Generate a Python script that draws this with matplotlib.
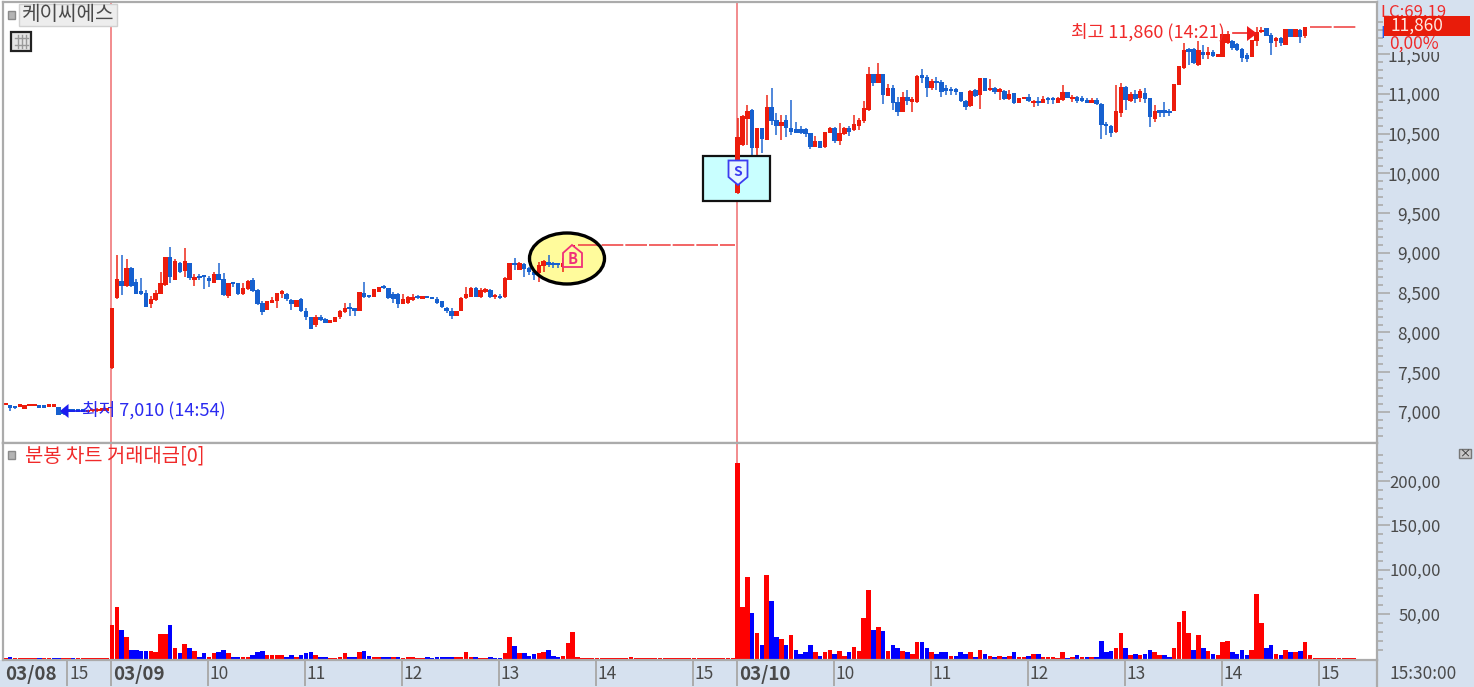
import matplotlib
matplotlib.use("Agg")
import matplotlib.pyplot as plt
import matplotlib.transforms as mtransforms
from matplotlib.patches import Rectangle, Ellipse, Polygon
from matplotlib.ticker import FixedLocator

plt.rcParams['font.family'] = ['Noto Sans CJK KR', 'DejaVu Sans']

# 3 minute candles, day by day
day1_open = [7085, 7085, 7065, 7065, 7035, 7075, 7075, 7085, 7085, 7065, 7060,
             7065, 7000, 7010, 7010, 7020, 7015, 7000, 7010, 7010, 7015, 7015]
day1_high = [7095, 7085, 7070, 7080, 7085, 7085, 7085, 7085, 7085, 7085, 7095,
             7065, 7010, 7015, 7015, 7020, 7020, 7015, 7020, 7050, 7020, 7020]
day1_low = [7085, 7015, 7040, 7065, 7035, 7075, 7075, 7045, 7045, 7065, 7060,
            6960, 6960, 7000, 7000, 7000, 7000, 7000, 7005, 7000, 7010, 7015]
day1_close = [7095, 7045, 7045, 7075, 7085, 7085, 7085, 7045, 7050, 7085, 7095,
              6965, 6980, 7005, 7005, 7005, 7005, 7015, 7020, 7020, 7020, 7020]

day2_open = [7550, 8430, 8650, 8580, 8805, 8640, 8505, 8500, 8360, 8410,
             8490, 8600, 8955, 8660, 8880, 8775, 8880, 8660, 8700, 8705,
             8660, 8625, 8730, 8670, 8460, 8620, 8620, 8485, 8545, 8660,
             8535, 8375, 8285, 8375, 8395, 8490, 8490, 8410, 8325, 8420,
             8275, 8190, 8095, 8200, 8165, 8125, 8135, 8190, 8260, 8310,
             8285, 8275, 8500, 8470, 8445, 8515, 8585, 8555, 8485, 8485,
             8360, 8370, 8410, 8450, 8425, 8440, 8440, 8420, 8390, 8305,
             8275, 8210, 8275, 8430, 8450, 8555, 8445, 8515, 8535, 8445,
             8460, 8445, 8660, 8870, 8785, 8860, 8805, 8765, 8745, 8840,
             8885, 8870, 8870, 8820, 8860, 8930]
day2_high = [8310, 8975, 8975, 8920, 8830, 8670, 8680, 8535, 8460, 8535,
             8765, 8955, 9070, 8930, 8890, 9060, 8880, 8735, 8735, 8710,
             8710, 8765, 8870, 8750, 8625, 8640, 8625, 8620, 8660, 8680,
             8545, 8390, 8390, 8450, 8500, 8535, 8500, 8420, 8410, 8430,
             8305, 8200, 8220, 8220, 8180, 8145, 8200, 8285, 8375, 8375,
             8305, 8515, 8640, 8470, 8545, 8575, 8600, 8565, 8515, 8495,
             8485, 8460, 8485, 8470, 8460, 8440, 8440, 8445, 8390, 8315,
             8305, 8275, 8450, 8575, 8575, 8575, 8555, 8555, 8545, 8485,
             8485, 8695, 8880, 8940, 8890, 8870, 8820, 8785, 8890, 8910,
             8975, 8890, 8880, 8935, 8930, 9100]
day2_low = [7540, 8420, 8470, 8570, 8575, 8490, 8470, 8315, 8305, 8400,
            8485, 8590, 8620, 8660, 8745, 8700, 8660, 8585, 8660, 8545,
            8575, 8620, 8660, 8465, 8430, 8570, 8470, 8470, 8535, 8515,
            8345, 8220, 8285, 8365, 8305, 8430, 8390, 8285, 8325, 8260,
            8160, 8040, 8065, 8145, 8115, 8125, 8135, 8165, 8240, 8210,
            8210, 8265, 8430, 8430, 8445, 8515, 8545, 8420, 8370, 8305,
            8360, 8360, 8400, 8420, 8420, 8430, 8420, 8360, 8305, 8240,
            8170, 8210, 8265, 8420, 8445, 8445, 8430, 8495, 8430, 8420,
            8420, 8435, 8660, 8785, 8780, 8695, 8725, 8660, 8640, 8765,
            8820, 8815, 8810, 8765, 8860, 8930]
day2_close = [8310, 8670, 8580, 8805, 8585, 8490, 8490, 8325, 8420, 8500,
              8620, 8945, 8700, 8900, 8755, 8900, 8680, 8695, 8680, 8695,
              8650, 8730, 8660, 8470, 8620, 8605, 8485, 8565, 8650, 8525,
              8360, 8260, 8390, 8410, 8500, 8515, 8415, 8360, 8410, 8270,
              8190, 8050, 8200, 8160, 8125, 8145, 8200, 8275, 8305, 8290,
              8275, 8505, 8450, 8445, 8545, 8575, 8555, 8430, 8420, 8360,
              8420, 8445, 8450, 8435, 8445, 8430, 8420, 8370, 8315, 8265,
              8210, 8275, 8430, 8485, 8555, 8450, 8535, 8545, 8445, 8470,
              8435, 8680, 8870, 8850, 8870, 8795, 8755, 8725, 8850, 8905,
              8850, 8850, 8850, 8880, 8930, 9100]

day3_open = [9752, 10360, 10680, 10800, 10320, 10570, 10422, 10842, 10674, 10603,
             10674, 10569, 10561, 10561, 10556, 10506, 10339, 10410, 10339, 10515,
             10569, 10414, 10498, 10569, 10548, 10603, 10665, 10800, 11252, 11135,
             11252, 10980, 11072, 10904, 10779, 10959, 10904, 10904, 11240, 11210,
             11072, 11156, 11156, 11059, 11059, 11051, 11021, 10917, 10850, 11051,
             10988, 11206, 11051, 11072, 11030, 11042, 10934, 11009, 10892, 10934,
             10959, 10883, 10917, 10892, 10942, 10942, 10892, 10925, 11030, 10934,
             10959, 10934, 10925, 10892, 10925, 10875, 10624, 10603, 10527, 10766,
             11093, 10917, 11000, 10946, 11017, 10946, 10682, 10779, 10779, 10779,
             10791, 11115, 11324, 11567, 11567, 11366, 11513, 11492, 11533, 11471,
             11471, 11638, 11672, 11630, 11563, 11492, 11471, 11672, 11777, 11827,
             11743, 11668, 11701, 11617, 11814, 11722, 11806, 11730]
day3_high = [10695, 10735, 10860, 10810, 10570, 10570, 10988, 11072, 10766, 10737,
             10737, 10925, 10653, 10598, 10569, 10515, 10473, 10410, 10527, 10590,
             10590, 10640, 10582, 10598, 10737, 10695, 10917, 11336, 11252, 11394,
             11252, 11126, 11114, 10959, 11030, 11051, 10959, 11240, 11311, 11240,
             11185, 11219, 11177, 11114, 11093, 11072, 11030, 10925, 11051, 11059,
             11206, 11206, 11185, 11093, 11072, 11051, 11051, 11017, 10946, 10959,
             11000, 10925, 10959, 10975, 10959, 10959, 10959, 11114, 11030, 10988,
             10975, 10975, 10946, 10946, 10946, 10883, 10653, 10611, 11114, 11143,
             11101, 11030, 11051, 11059, 11072, 10955, 10862, 10800, 10904, 10808,
             11126, 11358, 11638, 11575, 11575, 11672, 11617, 11596, 11550, 11492,
             11756, 11790, 11680, 11640, 11575, 11513, 11680, 11848, 11840, 11827,
             11764, 11722, 11714, 11820, 11814, 11814, 11814, 11840]
day3_low = [9740, 10350, 10360, 10213, 10170, 10263, 10422, 10611, 10485, 10422,
            10456, 10485, 10506, 10498, 10456, 10305, 10330, 10326, 10318, 10506,
            10389, 10360, 10485, 10473, 10540, 10548, 10632, 10791, 11101, 11135,
            10875, 10975, 10800, 10724, 10770, 10862, 10779, 10892, 11135, 10967,
            11051, 11051, 10967, 10988, 10988, 10988, 10904, 10800, 10833, 10967,
            10812, 11042, 11042, 11000, 10925, 10925, 10925, 10871, 10892, 10934,
            10896, 10833, 10854, 10883, 10871, 10871, 10883, 10917, 10946, 10904,
            10892, 10904, 10883, 10883, 10862, 10435, 10485, 10456, 10515, 10707,
            10800, 10904, 10892, 10904, 10892, 10590, 10644, 10707, 10716, 10724,
            10780, 11115, 11316, 11366, 11380, 11358, 11437, 11437, 11470, 11471,
            11471, 11630, 11555, 11540, 11408, 11408, 11471, 11605, 11764, 11735,
            11492, 11596, 11609, 11610, 11722, 11722, 11638, 11701]
day3_close = [10465, 10724, 10790, 10320, 10570, 10435, 10842, 10665, 10603, 10653,
              10569, 10527, 10515, 10506, 10498, 10339, 10410, 10326, 10519, 10569,
              10410, 10506, 10569, 10527, 10619, 10674, 10820, 11252, 11135, 11252,
              10988, 11072, 10892, 10779, 10959, 10917, 10917, 11227, 11198, 11080,
              11168, 11135, 11030, 11042, 11038, 11030, 10917, 10833, 11042, 10980,
              11206, 11042, 11072, 11021, 11059, 10938, 10996, 10883, 10946, 10959,
              10917, 10917, 10883, 10934, 10925, 10925, 10946, 11030, 10946, 10967,
              10917, 10917, 10892, 10925, 10875, 10611, 10598, 10515, 10791, 11093,
              10925, 11001, 10938, 11038, 10934, 10716, 10791, 10766, 10766, 10758,
              11126, 11358, 11555, 11534, 11387, 11555, 11492, 11521, 11479, 11492,
              11756, 11756, 11575, 11555, 11450, 11437, 11680, 11785, 11806, 11735,
              11647, 11693, 11638, 11814, 11722, 11814, 11722, 11840]

# price stays flat after the last candle of the day
day2_halt_price = 9100
day3_halt_price = 11840

# trading value, R = up bar, B = down bar
day1_vol = [1, 2, 1, 1, 1, 1, 1, 1, 1, 1, 1, 1, 1, 1, 1, 1, 1, 1, 1, 1, 1, 1]
day1_side = "RBRRRRRBRRBBRRBRRRRRRR"
day2_vol = [38, 58, 32, 24, 10, 10, 9, 9, 9, 7,
            28, 28, 38, 12, 6, 16, 12, 9, 2, 6,
            2, 6, 7, 10, 6, 2, 2, 2, 2, 4,
            7, 9, 4, 4, 4, 4, 2, 4, 2, 4,
            6, 7, 4, 2, 2, 1, 1, 2, 6, 2,
            2, 7, 9, 3, 2, 2, 2, 2, 2, 2,
            1, 2, 2, 1, 1, 2, 1, 2, 2, 2,
            2, 2, 2, 7, 2, 2, 1, 1, 2, 1,
            1, 6, 24, 14, 6, 6, 3, 5, 6, 7,
            10, 3, 2, 3, 18, 30, 2, 1, 1, 1,
            1, 1, 1, 1, 1, 1, 1, 2, 1, 1,
            1, 1, 1, 1, 1, 1, 1, 1, 1, 1,
            1, 1, 1, 1, 1, 1, 1, 1, 1]
day2_side = ("RRBRBBBBRR" "RRBRBRBRBB" "RRBBRBBRRB" "BBRRRRBBRB" "BBRBBRRRRB"
             "BRBBRRBBRB" "RRRRRBBBBB" "BRRRRBRRBB" "BRRBRBBBRR" "BBBRRRRRRR"
             "RRRRRRRRRR" "RRRRRRRRRR" "RRRRRRRRR")
day3_vol = [220, 58, 92, 51, 29, 15, 94, 65, 24, 22,
            15, 26, 10, 5, 7, 15, 7, 3, 7, 10,
            5, 8, 3, 7, 13, 8, 46, 77, 32, 36,
            31, 8, 15, 12, 8, 7, 5, 19, 19, 12,
            7, 5, 7, 7, 3, 3, 7, 5, 7, 2,
            10, 5, 3, 2, 3, 2, 3, 7, 2, 2,
            3, 5, 5, 2, 2, 2, 1, 7, 1, 2,
            4, 2, 2, 2, 2, 20, 7, 8, 12, 29,
            12, 4, 5, 4, 5, 10, 7, 4, 4, 2,
            12, 41, 53, 29, 10, 26, 12, 8, 5, 4,
            19, 20, 7, 5, 10, 4, 10, 73, 40, 12,
            15, 5, 4, 10, 7, 7, 8, 19, 4, 1,
            1, 1, 1, 1, 1, 1, 1, 1]
day3_side = ("RRRBRBRBBR" "BRBBBBRBRR" "BRRBRRRRBR" "BRBBRBRRBB" "RBBBRBBBRB"
             "RBRBRBRBRR" "BRBRRRRRBR" "BRBRBBBBRR" "BRBRBBRRBB" "RRRRBRBRBR"
             "RRBBBBRRRB" "BRBRBRBRRR" "RRRRRRRR")

price_ticks = [7000, 7500, 8000, 8500, 9000, 9500, 10000, 10500, 11000, 11500]
vol_ticks = [50, 100, 150, 200]
vol_tick_labels = ['50,00', '100,00', '150,00', '200,00']
time_labels = ['15', '03/09', '10', '11', '12', '13', '14', '15',
               '03/10', '10', '11', '12', '13', '14', '15']
time_ticks = [-9.2, -0.2, 19.8, 39.8, 59.8, 79.8, 99.8, 119.8,
              128.9, 148.9, 168.9, 188.9, 208.9, 228.9, 248.9]

RED = '#EC1C0C'
BLUE = '#1660CF'
STRIP = '#D6E1EF'
FRAME = '#ABABAB'
TEXT = '#4A4A4A'

DAY1_START = -22
DAY3_START = 129
BAR_PX = 4.85
FIRST_BAR_PX = 112
VOL_FLOOR = -1.7


def draw_candles(ax, start, opens, highs, lows, closes, z=2):
    for i in range(len(opens)):
        x = start + i
        up = closes[i] >= opens[i]
        color = RED if up else BLUE
        ax.vlines(x, lows[i], highs[i], color=color, lw=1.4, alpha=0.75, zorder=z)
        bottom = min(opens[i], closes[i])
        height = max(abs(closes[i] - opens[i]), 30)
        ax.bar(x, height, width=0.92, bottom=bottom, color=color, lw=0, zorder=z)


def px_to_index(x):
    return (x - FIRST_BAR_PX) / BAR_PX


fig = plt.figure(figsize=(14.74, 6.87), dpi=100, facecolor='white')
# y down pixel coordinates for all the screen furniture
pix = mtransforms.Affine2D().scale(1, -1).translate(0, 687)

fig.add_artist(Rectangle((1377, 0), 97, 687, transform=pix, fc=STRIP, ec='none', zorder=-2))
fig.add_artist(Rectangle((0, 660), 1474, 27, transform=pix, fc=STRIP, ec='none', zorder=-2))

W, H = 1474.0, 687.0
ax = fig.add_axes([3 / W, (H - 443) / H, 1374 / W, 441 / H])
ax_vol = fig.add_axes([3 / W, (H - 660) / H, 1374 / W, 217 / H])

for a in (ax, ax_vol):
    a.set_xlim(px_to_index(3), px_to_index(1377))
    for side in a.spines.values():
        side.set_color(FRAME)
        side.set_linewidth(1.6)
    a.yaxis.tick_right()
    a.axvline(time_ticks[1], color='#F0787A', lw=1.2, zorder=1)
    a.axvline(time_ticks[8], color='#F0787A', lw=1.2, zorder=1)

# price panel
ax.set_ylim(6610, 12157)
ax.set_xticks([])
ax.set_yticks(price_ticks)
ax.set_yticklabels([f"{p:,}" for p in price_ticks], fontsize=12.5, color=TEXT, ha='right')
ax.yaxis.set_minor_locator(FixedLocator([p for p in range(6700, 12100, 100) if p % 500]))
ax.tick_params(axis='y', which='major', length=9, width=1.2, color=FRAME, pad=37)
ax.tick_params(axis='y', which='minor', length=4, width=1.2, color=FRAME)

ax.add_patch(Ellipse((567, 258.5), 75, 51, transform=pix, fc='#FFFB9C', ec='none', zorder=1.5))

draw_candles(ax, DAY1_START, day1_open, day1_high, day1_low, day1_close)
draw_candles(ax, 0, day2_open, day2_high, day2_low, day2_close)
draw_candles(ax, DAY3_START + 1, day3_open[1:], day3_high[1:], day3_low[1:], day3_close[1:])

halt2 = len(day2_open)
ax.plot([halt2, DAY3_START - 0.5], [day2_halt_price, day2_halt_price],
        color='#F04A4A', lw=1.2, ls=(0, (13, 1.2)), zorder=2)
halt3 = DAY3_START + len(day3_open)
ax.plot([halt3, DAY3_START + 127.5], [day3_halt_price, day3_halt_price],
        color='#F04A4A', lw=1.2, ls=(0, (13, 1.2)), zorder=2)

# sell box sits on the candles, the first candle of the day stays in front
ax.add_patch(Rectangle((703, 156), 67, 45, transform=pix, fc='#C9FFFF', ec='#111111', lw=1.6, zorder=3))
draw_candles(ax, DAY3_START, day3_open[:1], day3_high[:1], day3_low[:1], day3_close[:1], z=4)
ax.add_patch(Polygon([(728.5, 160.5), (747.5, 160.5), (747.5, 177), (738, 185), (728.5, 177)],
                     transform=pix, fc='#E6F6FF', ec='#3C3CF0', lw=1.3, zorder=5))
ax.text(738, 171.5, 'S', transform=pix, color='#3C3CF0', fontsize=10, fontweight='bold',
        ha='center', va='center', zorder=6)

ax.add_patch(Ellipse((567, 258.5), 75, 51, transform=pix, fc='none', ec='black', lw=2.4, zorder=5))
ax.add_patch(Polygon([(563, 267), (563, 253), (572, 245), (582, 253), (582, 267)],
                     transform=pix, fc='#FFFB9C', ec='#F0307A', lw=1.3, zorder=5))
ax.text(572.5, 259, 'B', transform=pix, color='#F0307A', fontsize=10.5, fontweight='bold',
        ha='center', va='center', zorder=6)

# high and low callouts
ax.text(1225, 32, '최고 11,860 (14:21)', transform=pix, color='#F02A2A', fontsize=13,
        ha='right', va='center', zorder=6)
ax.plot([1233, 1248], [33, 33], transform=pix, color='#F02A2A', lw=1.2, zorder=6)
ax.add_patch(Polygon([(1247, 26), (1257, 33.5), (1247, 41)], transform=pix, fc='#F01A1A', ec='none', zorder=6))
ax.text(82, 410, '최저 7,010 (14:54)', transform=pix, color='#2A2AF0', fontsize=13,
        ha='left', va='center', zorder=6)
ax.plot([66, 86], [411, 411], transform=pix, color='#1A1AF0', lw=1.2, zorder=5)
ax.add_patch(Polygon([(68.5, 404), (60, 411), (68.5, 418)], transform=pix, fc='#1A1AF0', ec='none', zorder=6))

# value panel
ax_vol.set_ylim(VOL_FLOOR, 243)
ax_vol.set_yticks(vol_ticks)
ax_vol.set_yticklabels(vol_tick_labels, fontsize=12, color=TEXT, ha='right')
ax_vol.yaxis.set_minor_locator(FixedLocator([v for v in range(10, 240, 10) if v % 50]))
ax_vol.tick_params(axis='y', which='major', length=9, width=1.2, color=FRAME, pad=37)
ax_vol.tick_params(axis='y', which='minor', length=4, width=1.2, color=FRAME)

for start, vols, sides in ((DAY1_START, day1_vol, day1_side), (0, day2_vol, day2_side),
                           (DAY3_START, day3_vol, day3_side)):
    xs = [start + i for i in range(len(vols))]
    colors = ['#FF0000' if s == 'R' else '#0000FF' for s in sides]
    # bars stand on the panel floor so the smallest ones still show
    ax_vol.bar(xs, [v - VOL_FLOOR for v in vols], bottom=VOL_FLOOR, width=0.94,
               color=colors, lw=0, zorder=2)

ax_vol.set_xticks(time_ticks)
ax_vol.set_xticklabels([])
ax_vol.tick_params(axis='x', length=19, width=1.4, color=FRAME)

x_in_px = mtransforms.blended_transform_factory(ax_vol.transData, pix)
for pos, label in zip(time_ticks, time_labels):
    bold = '/' in label
    ax_vol.text(pos + 0.35, 674, label, transform=x_in_px, fontsize=13.5 if bold else 12.5,
                fontweight='bold' if bold else 'normal', color=TEXT,
                ha='left', va='center', clip_on=False)
ax_vol.text(5, 674, '03/08', transform=pix, fontsize=13.5, fontweight='bold', color=TEXT,
            ha='left', va='center', clip_on=False)

# screen furniture on top of everything
ov = fig.add_axes([0, 0, 1, 1], zorder=10)
ov.set_xlim(0, 1474)
ov.set_ylim(687, 0)
ov.axis('off')
ov.patch.set_alpha(0)

ov.add_patch(Rectangle((8, 11), 7, 8, fc='#B4B4B4', ec='#8A8A8A', lw=1))
ov.add_patch(Rectangle((19, 4), 98, 22, fc='#EDEDED', ec='#D0D0D0', lw=1))
ov.text(68, 15, '케이씨에스', fontsize=14.5, color=TEXT, ha='center', va='center')
ov.add_patch(Rectangle((11.5, 32), 19.5, 19, fc='#E4E4E4', ec='#222222', lw=1.6))
for gx in (18, 22, 26):
    ov.plot([gx, gx], [35, 48], color='#999999', lw=1)
for gy in (38, 45):
    ov.plot([15, 28], [gy, gy], color='#999999', lw=1)

ov.add_patch(Rectangle((8, 451), 7, 8, fc='#B4B4B4', ec='#8A8A8A', lw=1))
ov.text(25, 456, '분봉 차트 거래대금[0]', fontsize=14.3, color='#F02A2A', ha='left', va='center')
ov.add_patch(Rectangle((1459, 449), 12, 9, fc='#C8C8C8', ec='#777777', lw=1))
ov.text(1465, 453.2, '×', fontsize=8, color='#222222', ha='center', va='center')

ov.text(1380, 12, 'LC:69,19', fontsize=12, color='#F02A2A', ha='left', va='center', clip_on=True)
ov.text(1380, 33, 'H', fontsize=12, color='#2A5AE0', ha='left', va='center')
ov.add_patch(Rectangle((1384, 16), 86, 20, fc='#E81C0A', ec='none', zorder=4))
ov.add_patch(Rectangle((1384, 36), 86, 16, fc=STRIP, ec='none', zorder=4))
ov.text(1391, 26, '11,860', fontsize=12.5, color='#FFE8E0', ha='left', va='center', zorder=5)
ov.text(1389, 44, '0,00%', fontsize=12.5, color='#F02A2A', ha='left', va='center', zorder=5)

ov.text(1390, 674, '15:30:00', fontsize=12.5, color=TEXT, ha='left', va='center')
ov.plot([1377, 1377], [660, 687], color=FRAME, lw=1.6)

fig.savefig('out.png', dpi=100, facecolor=fig.get_facecolor())
